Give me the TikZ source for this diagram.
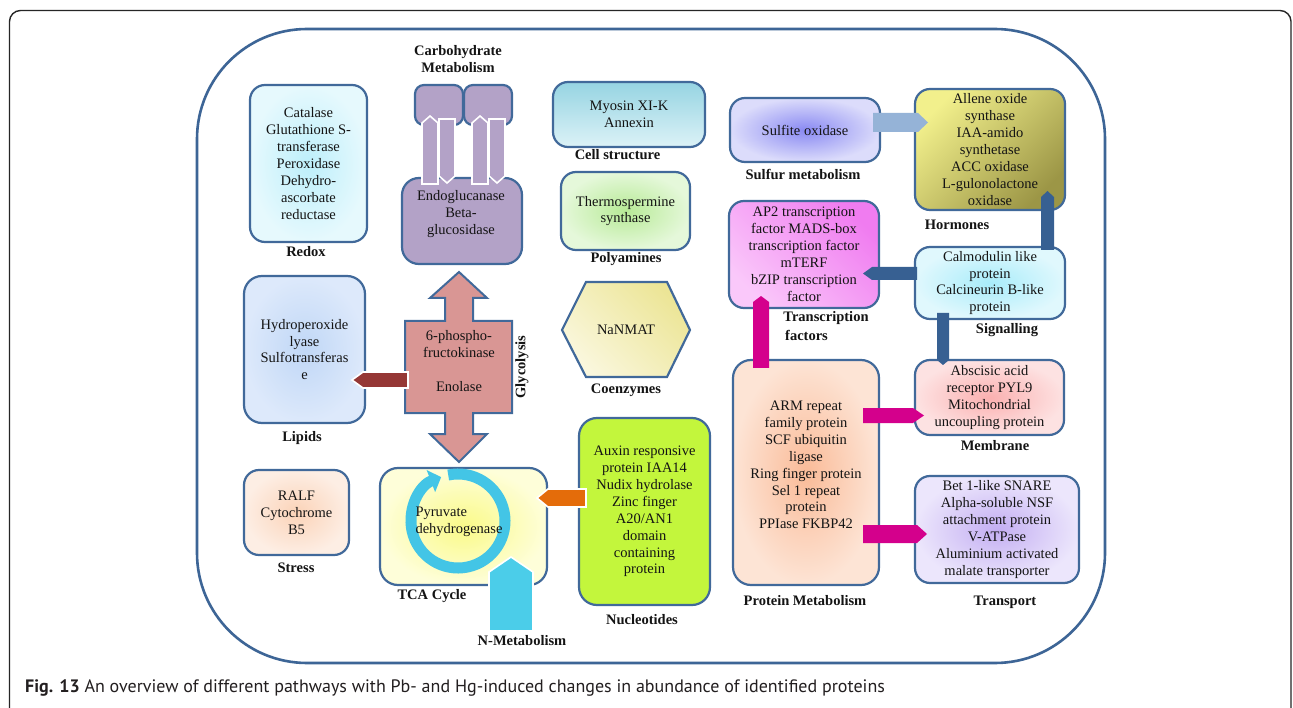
\documentclass[tikz,border=0pt]{standalone}
\usepackage{fontspec}
\setmainfont{Liberation Serif}
\newfontfamily\capfont{PT Sans}
\usetikzlibrary{arrows.meta,calc}
\definecolor{bord}{HTML}{41699A}
\definecolor{frameblue}{HTML}{3D6596}
\definecolor{txtc}{HTML}{141414}
\definecolor{capc}{HTML}{231F20}
\definecolor{redoxA}{HTML}{BDEFFB}
\definecolor{redoxB}{HTML}{E6F9FD}
\definecolor{lipA}{HTML}{C0D7F6}
\definecolor{lipB}{HTML}{DDE9FB}
\definecolor{strA}{HTML}{FBD3B8}
\definecolor{strB}{HTML}{FDEEE4}
\definecolor{tcaA}{HTML}{FAFA88}
\definecolor{tcaB}{HTML}{FEFED9}
\definecolor{carb}{HTML}{B3A2C7}
\definecolor{glyc}{HTML}{D99694}
\definecolor{cellA}{HTML}{96D4E2}
\definecolor{cellB}{HTML}{DCF2F7}
\definecolor{polyA}{HTML}{B7EA96}
\definecolor{polyB}{HTML}{E5F8DA}
\definecolor{hexA}{HTML}{ECE596}
\definecolor{hexB}{HTML}{FAF7DD}
\definecolor{nucl}{HTML}{C3F63C}
\definecolor{protA}{HTML}{FABB98}
\definecolor{protB}{HTML}{FDE4D5}
\definecolor{membA}{HTML}{FBB0B0}
\definecolor{membB}{HTML}{FDE2E2}
\definecolor{trA}{HTML}{C3AEF2}
\definecolor{trB}{HTML}{ECE6FC}
\definecolor{sulA}{HTML}{8A8AF2}
\definecolor{sulB}{HTML}{DCDCFB}
\definecolor{horA}{HTML}{F2F08C}
\definecolor{horB}{HTML}{9C9646}
\definecolor{tfA}{HTML}{F07CF0}
\definecolor{tfB}{HTML}{FAC8FA}
\definecolor{sigA}{HTML}{A8ECFA}
\definecolor{sigB}{HTML}{E0F8FD}
\definecolor{lipArr}{HTML}{953735}
\definecolor{orangeArr}{HTML}{E46C0A}
\definecolor{magArr}{HTML}{D4008C}
\definecolor{lbArr}{HTML}{95B3D7}
\definecolor{dbArr}{HTML}{376092}
\definecolor{cyanArr}{HTML}{4BCDE9}
\definecolor{ringc}{HTML}{43C5E6}
\newcommand\txtfont{\fontsize{14.5}{16.9}\selectfont}
\newcommand\labfont{\fontsize{14.5}{17}\selectfont\bfseries}
\newcommand\pent[6]{\begin{scope}[shift={#2},rotate=#3]\path[#1] (0,-#5) -- ({#4-#6},-#5) -- (#4,0) -- ({#4-#6},#5) -- (0,#5) -- cycle;\end{scope}}
\tikzset{
  box/.style={draw=bord, line width=2.2pt, rounded corners=15pt, inner sep=0pt, align=center, font=\txtfont, text=txtc},
  txt/.style={align=center, font=\txtfont, text=txtc, inner sep=0pt},
  lab/.style={font=\labfont, text=txtc, inner sep=0pt, anchor=base},
  wb/.style={draw=white, line width=1.6pt},
}
\begin{document}
\begin{tikzpicture}[x=1pt,y=-1pt]
\useasboundingbox (0,0) rectangle (1293,708);
\fill[white] (0,0) rectangle (1293,708);
% outer frame
\draw[black!85, line width=1.4pt, rounded corners=11pt] (9.5,708) -- (9.5,10.5) -- (1291,10.5) -- (1291,708);
% cell outline
\draw[frameblue, line width=2.6pt, rounded corners=110pt] (197,29) rectangle (1105,663);

% ---------- left column
\node[box, minimum width=117pt, minimum height=157pt, inner color=redoxA, outer color=redoxB] (redox) at (308.5,163.5) {Catalase\\Glutathione S-\\transferase\\Peroxidase\\Dehydro-\\ascorbate\\reductase};
\node[lab] (redoxlab) at (306,257) {Redox};

\node[box, rounded corners=18pt, minimum width=121pt, minimum height=147pt, inner color=lipA, outer color=lipB] (lipids) at (304.5,349.5) {Hydroperoxide\\lyase\\Sulfotransferas\\e};
\node[lab] (lipidslab) at (302,441) {Lipids};

\node[box, minimum width=105pt, minimum height=85pt, inner color=strA, outer color=strB] (stress) at (296.5,512.5) {RALF\\Cytochrome\\B5};
\node[lab] (stresslab) at (296,572) {Stress};

% ---------- carbohydrate metabolism
\node[lab] (carblab1) at (458,56) {Carbohydrate};
\node[lab] (carblab2) at (458,73) {Metabolism};
\node[box, rounded corners=9pt, fill=carb, minimum width=48pt, minimum height=40pt] (carbL) at (439,105) {};
\node[box, rounded corners=9pt, fill=carb, minimum width=48pt, minimum height=40pt] (carbR) at (488,105) {};
\node[box, rounded corners=17pt, fill=carb, minimum width=120pt, minimum height=86pt] (carb) at (462,221) {};
\node[txt] (carbtxt) at (461,214) {Endoglucanase\\Beta-\\glucosidase};
\pent{fill=carb, wb}{(430,184)}{90}{68}{8}{7}
\pent{fill=carb, wb}{(447,119)}{-90}{64}{8}{7}
\pent{fill=carb, wb}{(480,184)}{90}{68}{8}{7}
\pent{fill=carb, wb}{(497,119)}{-90}{64}{8}{7}

% ---------- glycolysis
\path[draw=bord, line width=2pt, fill=glyc] (459,272) -- (487,298) -- (473,298) -- (473,321) -- (512,321) -- (512,413) -- (473,413) -- (473,434) -- (487,434) -- (459,462) -- (430,434) -- (445,434) -- (445,413) -- (405,413) -- (405,321) -- (445,321) -- (445,298) -- (430,298) -- cycle;
\node[txt] (glyc) at (459,361) {6-phospho-\\fructokinase\\[16.9pt]Enolase};
\node[font=\labfont, text=txtc, inner sep=0pt, rotate=90] (glyclab) at (522,367) {Glycolysis};
\pent{fill=lipArr, wb}{(408,380)}{180}{56}{8}{11}

% ---------- TCA
\node[box, rounded corners=18pt, minimum width=167pt, minimum height=117pt, inner color=tcaA, outer color=tcaB] (tca) at (463.5,526.5) {};
\draw[line width=11pt, draw=ringc, -{Triangle[width=23pt,length=11pt]}] (458,521) ++(-102:47) arc[start angle=-102, end angle=249, radius=47];
\node[txt, align=left] (pyr) at (459,522) {Pyruvate\\dehydrogenase};
\node[lab] (tcalab) at (432,599) {TCA Cycle};
\pent{fill=cyanArr, wb}{(511,631)}{90}{74}{22}{15}
\node[lab] (nmetlab) at (522,645) {N-Metabolism};

% ---------- middle column
\node[box, minimum width=152pt, minimum height=65pt, top color=cellA, bottom color=cellB] (cell) at (629,114.5) {Myosin XI-K\\Annexin};
\node[lab] (celllab) at (617.5,160) {Cell structure};
\node[box, minimum width=129pt, minimum height=78pt, inner color=polyA, outer color=polyB] (poly) at (625.5,211) {Thermospermine\\synthase};
\node[lab] (polylab) at (626,263) {Polyamines};
\path[draw=bord, line width=2.2pt, top color=hexA, bottom color=hexB, shading angle=-45] (562,330) -- (586,282) -- (667,282) -- (690,330) -- (667,377) -- (586,377) -- cycle;
\node[txt] (coenz) at (626,330) {NaNMAT};
\node[lab] (coenzlab) at (626,394) {Coenzymes};
\node[box, rounded corners=18pt, minimum width=131pt, minimum height=187pt, fill=nucl] (nucl) at (644.5,511.5) {Auxin responsive\\protein IAA14\\Nudix hydrolase\\Zinc finger\\A20/AN1\\domain\\containing\\protein};
\node[lab] (nucllab) at (642,624) {Nucleotides};
\pent{fill=orangeArr, wb}{(586,498)}{180}{49}{9}{11}

% ---------- right part
\node[box, minimum width=150pt, minimum height=64pt, inner color=sulA, outer color=sulB] (sulf) at (805,130) {Sulfite oxidase};
\node[lab] (sulflab) at (803,180) {Sulfur metabolism};
\node[box, minimum width=150pt, minimum height=121pt, top color=horA, bottom color=horB, shading angle=45] (horm) at (990,149.5) {Allene oxide\\synthase\\IAA-amido\\synthetase\\ACC oxidase\\L-gulonolactone\\oxidase};
\node[lab] (hormlab) at (957,230) {Hormones};
\pent{fill=lbArr}{(873,122.5)}{0}{55}{9.5}{10}

\node[box, minimum width=150pt, minimum height=107pt, top color=tfA, bottom color=tfB, shading angle=-45] (tf) at (804,254.5) {AP2 transcription\\factor MADS-box\\transcription factor\\mTERF\\bZIP transcription\\factor};
\node[lab] (tflab1) at (826,322) {Transcription};
\node[lab] (tflab2) at (806.5,341) {factors};
\node[box, minimum width=150pt, minimum height=72pt, inner color=sigA, outer color=sigB] (sig) at (990,283) {Calmodulin like\\protein\\Calcineurin B-like\\protein};
\node[lab] (siglab) at (1007,334) {Signalling};
\pent{fill=dbArr}{(917,273.5)}{180}{54}{6.5}{9}
\pent{fill=dbArr}{(1047.5,250)}{90}{59}{6.5}{6}

\node[box, rounded corners=18pt, minimum width=146pt, minimum height=225pt, inner color=protA, outer color=protB] (prot) at (806,472.5) {};
\node[txt] (prottxt) at (806,465) {ARM repeat\\family protein\\SCF ubiquitin\\ligase\\Ring finger protein\\Sel 1 repeat\\protein\\PPIase FKBP42};
\node[lab] (protlab) at (805,605) {Protein Metabolism};
\node[box, minimum width=149pt, minimum height=75pt, inner color=membA, outer color=membB] (memb) at (989.5,397.5) {Abscisic acid\\receptor PYL9\\Mitochondrial\\uncoupling protein};
\node[lab] (memblab) at (995,450) {Membrane};
\node[box, minimum width=164pt, minimum height=107pt, inner color=trA, outer color=trB] (transp) at (997,529.5) {Bet 1-like SNARE\\Alpha-soluble NSF\\attachment protein\\V-ATPase\\Aluminium activated\\malate transporter};
\node[lab] (transplab) at (1005,605) {Transport};
\pent{fill=dbArr}{(943,313)}{-90}{52}{6}{5}
\pent{fill=magArr}{(761,368)}{90}{72}{8}{6}
\pent{fill=magArr}{(863,415.5)}{0}{61}{7.5}{11}
\pent{fill=magArr}{(863,534)}{0}{64}{9}{10}

% ---------- caption
\node[anchor=base west, font=\capfont\fontsize{18}{20}\selectfont, text=capc, inner sep=0pt] (cap) at (25,692) {\textbf{Fig. 13} An overview of different pathways with Pb- and Hg-induced changes in abundance of identified proteins};
\end{tikzpicture}
\end{document}
